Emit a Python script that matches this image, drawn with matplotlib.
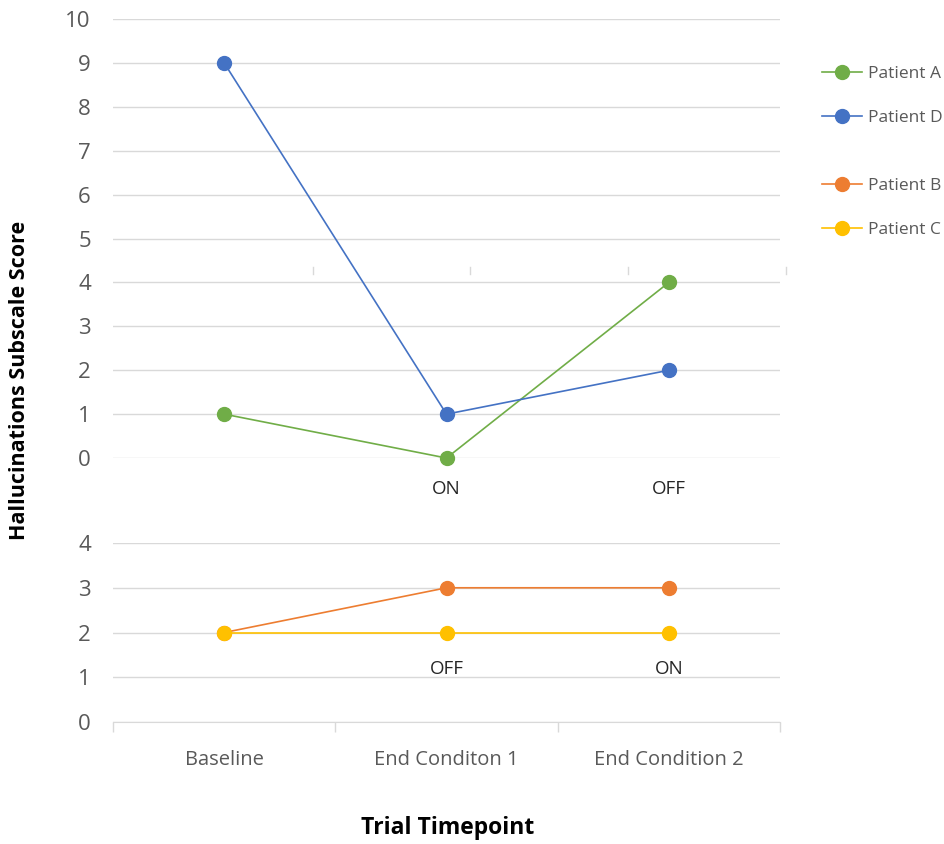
import matplotlib
matplotlib.use("Agg")
from matplotlib import pyplot as plt
from matplotlib.lines import Line2D

plt.rcParams['font.family'] = ['Open Sans', 'DejaVu Sans']

timepoints = ["Baseline", "End Conditon 1", "End Condition 2"]

# upper panel
patient_a = [1, 0, 4]
patient_d = [9, 1, 2]
upper_conditions = ["", "ON", "OFF"]

# lower panel
patient_b = [2, 3, 3]
patient_c = [2, 2, 2]
lower_conditions = ["", "OFF", "ON"]

GREEN = "#70AD47"
BLUE = "#4472C4"
ORANGE = "#ED7D31"
YELLOW = "#FFC000"
GRID = "#D9D9D9"
TEXT = "#595959"

fig = plt.figure(figsize=(9.45, 8.44), dpi=100)
ax_top = fig.add_axes([0.1196, 0.4573, 0.7058, 0.5201])
ax_bot = fig.add_axes([0.1196, 0.1445, 0.7058, 0.2121])

x = list(range(len(timepoints)))
style = dict(lw=1.2, marker="o", markersize=10, clip_on=False, zorder=3)

la, = ax_top.plot(x, patient_a, color=GREEN, label="Patient A", **style)
ld, = ax_top.plot(x, patient_d, color=BLUE, label="Patient D", **style)
lb, = ax_bot.plot(x, patient_b, color=ORANGE, label="Patient B", **style)
lc, = ax_bot.plot(x, patient_c, color=YELLOW, label="Patient C", **style)

for ax, top in ((ax_top, 10), (ax_bot, 4)):
    ax.set_xlim(-0.5, 2.5)
    ax.set_ylim(0, top)
    ax.set_yticks(range(top + 1))
    ax.tick_params(axis="y", length=0, pad=16, labelsize=16, labelcolor=TEXT)
    ax.grid(axis="y", color=GRID, lw=1)
    ax.set_axisbelow(True)
    for s in ax.spines.values():
        s.set_visible(False)

ax_top.set_xticks([])

ax_bot.spines["bottom"].set_visible(True)
ax_bot.spines["bottom"].set_color(GRID)
ax_bot.set_xticks(x)
ax_bot.set_xticklabels(timepoints)
ax_bot.set_xticks([-0.5, 0.5, 1.5, 2.5], minor=True)
ax_bot.tick_params(axis="x", which="major", length=0, pad=20, labelsize=14.5, labelcolor=TEXT)
ax_bot.tick_params(axis="x", which="minor", length=7, color=GRID, width=1)

# ON / OFF condition labels
for xi, txt in zip(x, upper_conditions):
    if txt:
        ax_top.annotate(txt, xy=(xi, 0), xytext=(0, -22), textcoords="offset points",
                        ha="center", va="center", fontsize=13.5, color="#262626")
for xi, txt in zip(x, lower_conditions):
    if txt:
        ax_bot.annotate(txt, xy=(xi, 2), xytext=(0, -26), textcoords="offset points",
                        ha="center", va="center", fontsize=13.5, color="#262626")

# stray category ticks left over from the upper chart
for px in (313, 470, 628, 786):
    fig.add_artist(Line2D([px / 945, px / 945], [1 - 267 / 844, 1 - 274 / 844],
                          color=GRID, lw=1))

fig.text(20 / 945, 1 - 380 / 844, "Hallucinations Subscale Score", rotation=90,
         ha="center", va="center", fontsize=15.5, fontweight="bold", color="#000000")
fig.text(448 / 945, 1 - 828 / 844, "Trial Timepoint", ha="center", va="center",
         fontsize=16.5, fontweight="bold", color="#000000")

leg_kw = dict(frameon=False, fontsize=12.5, handlelength=2.3, labelspacing=1.62,
              handletextpad=0.35, borderpad=0, labelcolor=TEXT)
fig.legend(handles=[la, ld], loc="upper left", bbox_to_anchor=(813 / 945, 1 - 57 / 844), **leg_kw)
fig.legend(handles=[lb, lc], loc="upper left", bbox_to_anchor=(813 / 945, 1 - 169 / 844), **leg_kw)

fig.savefig("out.png", dpi=100)
